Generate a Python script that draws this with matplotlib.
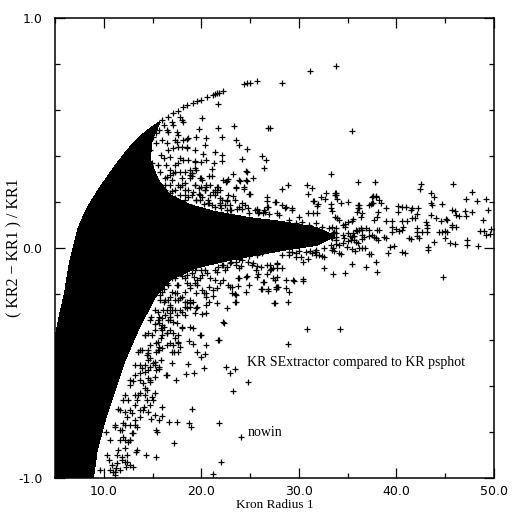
import matplotlib
matplotlib.use('Agg')
import matplotlib.pyplot as plt
from matplotlib.patches import Polygon
from matplotlib.ticker import FixedLocator, MultipleLocator
import numpy as np

# ---------------- data ----------------
x_ticks = [10, 20, 30, 40, 50]
x_tick_labels = ['10.0', '20.0', '30.0', '40.0', '50.0']
y_ticks = [-1.0, 0.0, 1.0]
y_tick_labels = ['-1.0', '0.0', '1.0']

x_label = 'Kron Radius 1'
y_label = '( KR2 \u2212 KR1 ) / KR1'
note_1 = 'KR SExtractor compared to KR psphot'
note_2 = 'nowin'

# outline of the saturated (solid black) bulk of the point cloud
core_x = [5.0, 5.0, 5.51, 6.02, 6.53, 7.35, 7.86, 8.58, 9.60, 10.62, 11.34, 12.46, 13.69, 14.71, 15.74,
          14.92, 14.71, 15.53, 16.76, 18.80, 21.36, 24.94, 28.31, 31.79, 33.63,
          31.79, 28.31, 24.94, 21.87, 19.31, 16.76, 15.22, 13.49, 12.16, 11.13, 10.11, 9.29, 8.89]
core_y = [-1.0, -0.400, -0.291, -0.196, -0.061, 0.078, 0.130, 0.191, 0.261, 0.322, 0.365, 0.426, 0.483, 0.517, 0.548,
          0.470, 0.383, 0.296, 0.230, 0.187, 0.157, 0.130, 0.113, 0.087, 0.052,
          0.013, -0.009, -0.035, -0.061, -0.087, -0.139, -0.213, -0.357, -0.487, -0.617, -0.748, -0.878, -1.0]

# individual points
tail = [(16.0, 0.557), (16.6, 0.570), (17.1, 0.587), (17.6, 0.596), (18.1, 0.613), (18.5, 0.622), (19.1, 0.630),
        (19.6, 0.639), (20.0, 0.643), (20.6, 0.657), (21.2, 0.665), (21.4, 0.670), (21.6, 0.674), (21.8, 0.674),
        (22.2, 0.683), (24.4, 0.713), (24.7, 0.716), (25.0, 0.716), (25.7, 0.725), (28.3, 0.716), (31.1, 0.771),
        (33.8, 0.791)]

upper = [(35.4, 0.509), (21.7, 0.626), (20.1, 0.565), (23.3, 0.530), (26.8, 0.522), (27.0, 0.522), (21.7, 0.522),
         (19.8, 0.517), (22.1, 0.483), (23.6, 0.470), (23.9, 0.448), (24.7, 0.430), (26.2, 0.400), (26.6, 0.383),
         (24.2, 0.387), (26.4, 0.348), (24.7, 0.330), (25.3, 0.304), (22.1, 0.404), (21.4, 0.417), (20.2, 0.409),
         (19.4, 0.378), (20.0, 0.374), (22.1, 0.378), (21.3, 0.370), (21.1, 0.343), (23.2, 0.322), (22.6, 0.291),
         (24.0, 0.291), (24.7, 0.291), (23.6, 0.265), (24.4, 0.257), (23.2, 0.226), (25.0, 0.235), (20.5, 0.478),
         (19.5, 0.483), (18.6, 0.478), (18.5, 0.435), (18.0, 0.439), (19.3, 0.348), (21.1, 0.313), (20.5, 0.274),
         (21.6, 0.243), (20.0, 0.304), (19.0, 0.326), (19.0, 0.313), (20.0, 0.265),
         (33.3, 0.322), (36.1, 0.287), (30.8, 0.274), (31.3, 0.261), (30.9, 0.235), (28.9, 0.274), (28.3, 0.257),
         (32.3, 0.222), (33.7, 0.239), (33.7, 0.230), (31.4, 0.204), (31.6, 0.204), (32.0, 0.191), (33.3, 0.191),
         (33.9, 0.213), (35.0, 0.200), (37.6, 0.226), (37.9, 0.226), (37.4, 0.191), (37.6, 0.196), (36.2, 0.187),
         (36.2, 0.174), (27.7, 0.200), (26.7, 0.222), (26.7, 0.204), (28.3, 0.187), (29.3, 0.174), (29.3, 0.165),
         (28.7, 0.178), (24.2, 0.196), (25.7, 0.165), (26.8, 0.178), (22.6, 0.209),
         (17.8, 0.570), (18.0, 0.557), (18.1, 0.548), (17.0, 0.548), (17.1, 0.535), (16.2, 0.535), (16.5, 0.513),
         (16.6, 0.504), (17.5, 0.504), (17.6, 0.491), (18.1, 0.470), (18.5, 0.474), (17.3, 0.470), (17.5, 0.461),
         (15.7, 0.513), (15.4, 0.500), (15.0, 0.483), (16.0, 0.470), (16.5, 0.457), (15.4, 0.457), (16.6, 0.426),
         (17.1, 0.435), (17.6, 0.439), (18.5, 0.439), (15.9, 0.404), (16.2, 0.391), (16.8, 0.396), (17.8, 0.391),
         (18.1, 0.383), (17.6, 0.370), (19.3, 0.374), (20.5, 0.383), (18.8, 0.339), (19.0, 0.326),
         (19.5, 0.339), (16.8, 0.339), (17.1, 0.326), (16.5, 0.309), (17.0, 0.296), (18.0, 0.304), (18.3, 0.283),
         (17.8, 0.265), (19.1, 0.243), (19.8, 0.261), (18.6, 0.222), (19.5, 0.209), (20.1, 0.222),
         (21.6, 0.265), (22.2, 0.296), (20.8, 0.196), (21.4, 0.178), (21.9, 0.187), (22.6, 0.165),
         (14.7, 0.426), (14.4, 0.396), (14.9, 0.370), (14.0, 0.352), (14.7, 0.339), (13.9, 0.317), (14.5, 0.304),
         (15.4, 0.283), (15.9, 0.265), (15.0, 0.252), (16.0, 0.222), (16.8, 0.239), (17.3, 0.217),
         (24.6, 0.335), (20.8, 0.313), (22.7, 0.300), (22.5, 0.287), (23.9, 0.296), (24.6, 0.296), (20.1, 0.296),
         (20.5, 0.265), (23.6, 0.261), (24.4, 0.265), (24.9, 0.235), (21.7, 0.265), (21.4, 0.252), (21.2, 0.243),
         (22.6, 0.204), (21.9, 0.196), (20.7, 0.196), (23.7, 0.170), (24.2, 0.170), (24.8, 0.174), (24.9, 0.152),
         (25.7, 0.170), (25.8, 0.152), (26.3, 0.152), (26.5, 0.157), (26.7, 0.178), (27.6, 0.200), (27.8, 0.152),
         (28.0, 0.143), (28.6, 0.174), (31.9, 0.183), (32.8, 0.239), (32.7, 0.213), (33.3, 0.174), (33.4, 0.161),
         (30.9, 0.152), (31.4, 0.152), (31.9, 0.152), (30.0, 0.135)]

upper_dense = [(17.27, 0.361), (17.78, 0.330), (18.80, 0.317), (19.31, 0.274), (20.34, 0.252), (20.85, 0.230),
               (21.87, 0.217), (18.29, 0.252), (19.83, 0.209), (22.89, 0.187), (23.91, 0.178), (25.96, 0.157),
               (26.98, 0.148), (16.76, 0.317), (16.25, 0.274), (17.58, 0.274), (18.60, 0.383), (19.31, 0.426),
               (20.34, 0.448), (16.0, 0.200), (16.5, 0.180), (15.5, 0.240), (18.0, 0.190), (19.0, 0.180),
               (17.0, 0.250), (18.3, 0.230), (20.3, 0.190), (22.0, 0.175), (23.0, 0.165), (19.8, 0.235),
               (14.71, 0.361), (15.53, 0.361), (16.35, 0.361), (14.92, 0.330), (15.74, 0.330), (17.27, 0.330),
               (18.29, 0.330), (15.22, 0.304), (16.25, 0.304), (18.80, 0.304), (19.83, 0.304), (15.74, 0.274),
               (16.76, 0.274), (17.99, 0.274), (19.31, 0.274), (20.85, 0.274), (16.25, 0.252), (17.27, 0.252),
               (18.60, 0.252), (20.34, 0.252), (21.87, 0.252), (17.78, 0.230), (19.01, 0.230), (19.83, 0.230),
               (21.36, 0.230), (22.69, 0.230), (18.29, 0.209), (19.42, 0.209), (20.64, 0.209), (22.08, 0.209),
               (23.40, 0.209), (21.05, 0.187), (22.38, 0.187), (24.43, 0.187), (22.89, 0.165), (25.45, 0.165),
               (26.47, 0.165)]

arm_tip = [(29.03, 0.122), (29.74, 0.107), (30.36, 0.114), (31.07, 0.100), (31.79, 0.107), (32.40, 0.093),
           (33.12, 0.086), (32.30, 0.064), (32.91, 0.057), (33.63, 0.071), (33.83, 0.035), (33.32, 0.013),
           (32.61, -0.001), (31.79, -0.009), (30.77, -0.016), (29.74, -0.023), (29.03, -0.016), (28.31, -0.030)]

right = [(37.8, 0.287), (42.5, 0.278), (42.4, 0.257), (45.8, 0.278), (47.7, 0.243), (33.8, 0.239), (33.8, 0.230),
         (34.3, 0.196), (37.5, 0.222), (37.9, 0.222), (38.2, 0.209), (38.4, 0.196), (37.5, 0.196), (37.2, 0.187),
         (36.1, 0.187), (36.1, 0.174), (36.0, 0.157), (36.5, 0.152), (36.4, 0.135), (43.5, 0.239), (43.9, 0.222),
         (43.5, 0.196), (43.6, 0.187), (44.7, 0.191), (47.1, 0.213), (49.2, 0.213), (48.3, 0.204), (40.2, 0.183),
         (40.2, 0.157), (40.6, 0.178), (41.0, 0.178), (41.5, 0.165), (41.6, 0.174), (42.2, 0.174), (42.1, 0.148),
         (38.9, 0.174), (38.9, 0.117), (39.5, 0.117), (40.6, 0.117), (41.1, 0.117), (41.6, 0.130), (41.9, 0.130),
         (43.0, 0.113), (43.1, 0.100), (43.1, 0.087), (43.1, 0.070), (43.5, 0.143), (44.1, 0.130), (44.6, 0.117),
         (45.1, 0.126), (45.2, 0.122), (45.7, 0.165), (46.0, 0.161), (46.1, 0.143), (46.4, 0.139), (47.0, 0.161),
         (47.1, 0.139), (47.7, 0.157), (48.9, 0.122), (49.4, 0.165), (45.7, 0.100), (45.7, 0.091), (46.1, 0.091),
         (48.6, 0.074), (49.0, 0.074), (49.2, 0.057), (49.6, 0.061), (49.7, 0.083), (44.4, 0.070), (44.7, 0.070),
         (45.0, 0.074), (45.2, 0.070), (47.2, 0.035), (47.2, 0.013), (48.4, 0.009), (46.0, 0.017), (45.5, 0.022),
         (45.0, 0.043), (43.9, 0.026), (43.2, 0.004), (43.2, -0.009), (44.8, -0.126), (42.1, 0.087), (42.1, 0.070),
         (42.6, 0.070), (42.1, 0.052), (42.3, 0.043), (41.3, 0.043), (41.5, 0.039), (40.6, 0.078), (40.7, 0.091),
         (40.3, 0.074), (40.0, 0.083), (39.5, 0.091), (39.5, 0.070), (39.8, 0.009), (39.3, 0.004), (40.6, -0.017),
         (40.9, -0.022), (39.1, -0.022), (38.7, 0.048), (38.9, 0.043), (38.1, 0.035), (37.9, 0.043), (37.5, 0.057),
         (37.7, 0.048), (37.2, 0.052), (38.0, 0.078), (38.2, 0.078), (38.1, 0.157), (38.0, 0.135), (37.7, 0.122),
         (36.9, 0.087), (37.2, 0.078), (36.4, 0.087), (36.5, 0.078), (36.2, 0.078), (36.0, 0.074), (35.9, 0.078),
         (36.5, 0.057), (36.5, 0.039), (36.7, 0.048), (36.2, 0.000), (36.5, 0.000), (36.8, 0.000), (36.1, 0.022),
         (35.9, 0.026), (35.7, 0.052), (35.7, 0.035), (35.4, 0.048), (35.3, 0.035), (35.0, 0.030), (35.0, 0.065),
         (35.2, 0.052), (35.5, 0.065), (35.5, 0.126), (35.4, 0.117), (35.0, 0.113), (34.7, 0.104), (34.7, 0.091),
         (34.5, 0.100), (33.7, 0.135), (33.9, 0.130), (34.1, 0.122), (33.4, 0.091), (33.8, 0.087), (33.8, 0.065),
         (33.5, 0.065), (33.3, 0.048), (33.4, 0.043), (33.8, 0.048), (33.8, 0.017), (34.1, 0.013), (34.5, 0.022),
         (34.6, 0.043), (34.5, 0.057), (34.9, 0.004), (35.4, -0.004), (35.8, -0.013), (33.5, 0.000), (33.6, -0.013),
         (34.1, -0.022), (34.3, -0.026), (37.2, -0.026), (37.4, -0.026), (35.4, -0.070), (36.9, -0.083),
         (37.9, -0.061), (38.0, -0.104), (33.5, -0.113), (34.7, -0.109)]

lower = [(23.0, -0.061), (23.9, -0.048), (24.8, -0.061), (25.3, -0.065), (26.1, -0.083), (27.0, -0.074),
         (27.1, -0.091), (27.8, -0.070), (28.3, -0.087), (29.7, -0.039), (30.4, -0.061), (30.9, -0.048),
         (32.6, -0.087), (33.4, -0.009), (32.4, -0.035), (31.7, -0.017), (25.6, -0.096), (24.6, -0.126),
         (23.8, -0.130), (25.7, -0.126), (26.3, -0.148), (27.6, -0.139), (28.7, -0.139), (26.7, -0.113),
         (29.4, -0.139), (30.4, -0.135), (27.8, -0.170), (27.7, -0.178), (26.8, -0.178), (26.1, -0.178),
         (29.0, -0.191), (22.7, -0.161), (23.1, -0.170), (23.6, -0.204), (24.9, -0.161), (21.4, -0.139),
         (21.9, -0.152), (22.2, -0.139), (20.8, -0.170), (21.2, -0.183), (21.6, -0.174), (20.1, -0.183),
         (20.5, -0.196), (19.3, -0.152), (19.6, -0.161), (23.9, -0.087), (22.4, -0.096), (22.1, -0.074),
         (22.6, -0.083), (21.6, -0.104), (21.7, -0.083),
         (30.8, -0.352), (34.2, -0.352), (28.9, -0.417), (22.9, -0.543), (27.4, -0.239), (28.9, -0.235),
         (28.7, -0.174), (29.5, -0.143), (30.4, -0.143), (31.8, -0.017), (31.8, -0.030), (32.1, -0.030),
         (32.6, -0.039), (30.0, -0.013), (30.2, -0.039), (29.3, -0.017), (29.0, -0.030), (27.8, -0.065),
         (27.8, -0.087), (27.3, -0.087), (26.7, -0.074), (27.0, -0.096), (25.7, -0.078), (25.2, -0.074),
         (24.7, -0.122), (25.8, -0.113), (23.9, -0.130), (22.9, -0.170), (23.8, -0.165), (24.6, -0.191),
         (23.1, -0.196), (23.5, -0.200), (23.4, -0.235), (26.2, -0.178), (27.7, -0.170), (27.9, -0.170),
         (26.4, -0.148), (27.3, -0.130), (27.8, -0.126), (26.2, -0.022), (25.7, -0.030), (24.9, -0.035),
         (24.2, -0.052), (23.6, -0.074), (31.1, -0.013), (31.3, -0.022),
         (22.2, -0.074), (22.9, -0.065), (23.6, -0.061), (24.1, -0.078), (19.5, -0.083), (20.0, -0.096),
         (18.5, -0.117), (19.0, -0.109), (20.1, -0.117), (20.6, -0.109), (19.2, -0.126), (19.6, -0.139),
         (18.5, -0.152), (18.8, -0.174), (20.5, -0.248), (20.8, -0.235), (22.2, -0.322), (17.5, -0.196),
         (18.0, -0.213), (18.5, -0.235), (19.1, -0.235), (19.6, -0.257), (18.3, -0.257), (18.0, -0.278),
         (16.8, -0.257), (17.3, -0.270), (17.5, -0.326), (18.0, -0.348), (18.8, -0.343), (19.1, -0.348),
         (20.0, -0.378), (21.7, -0.400), (20.5, -0.422), (17.3, -0.391), (17.6, -0.409), (17.1, -0.422),
         (16.0, -0.357), (16.5, -0.370), (15.7, -0.300), (16.0, -0.304), (16.8, -0.300),
         (19.5, -0.196), (20.3, -0.196), (20.5, -0.213), (21.2, -0.209), (21.6, -0.239), (23.4, -0.200),
         (23.6, -0.235), (26.8, -0.187), (27.5, -0.239), (22.6, -0.261), (22.3, -0.326), (20.1, -0.287),
         (20.5, -0.283), (19.3, -0.283), (19.5, -0.261), (18.8, -0.257), (18.5, -0.261), (19.9, -0.378),
         (21.8, -0.400), (18.7, -0.404), (19.1, -0.417), (19.6, -0.452), (20.0, -0.474), (20.4, -0.461),
         (17.6, -0.378), (17.6, -0.413), (17.8, -0.430), (17.0, -0.452), (17.2, -0.452), (17.6, -0.452),
         (17.0, -0.500), (18.6, -0.504), (20.3, -0.522), (22.5, -0.517), (23.5, -0.526), (19.2, -0.543),
         (18.4, -0.548), (17.4, -0.574), (16.5, -0.552), (15.7, -0.526), (24.8, -0.583), (23.2, -0.622),
         (19.0, -0.700), (21.8, -0.761), (18.7, -0.761), (18.9, -0.778), (17.5, -0.757), (16.7, -0.757),
         (16.0, -0.730), (15.7, -0.748), (15.2, -0.726), (14.8, -0.743), (15.5, -0.800), (24.1, -0.822),
         (17.2, -0.848), (14.3, -0.900), (15.4, -0.909), (13.3, -0.887), (22.0, -0.930), (21.2, -0.983),
         (13.0, -0.952), (12.7, -0.943), (12.3, -0.952), (14.0, -0.704), (14.1, -0.691), (13.7, -0.735),
         (14.9, -0.648), (14.4, -0.661), (14.7, -0.683), (14.2, -0.609), (14.4, -0.617), (15.2, -0.630),
         (16.0, -0.691), (14.5, -0.565), (14.7, -0.583), (15.4, -0.530), (15.7, -0.517), (14.5, -0.530),
         (14.7, -0.517), (14.4, -0.465), (14.7, -0.478), (15.2, -0.496), (15.4, -0.452), (15.7, -0.443),
         (16.0, -0.435), (15.6, -0.409), (15.9, -0.391), (16.5, -0.422), (16.8, -0.413), (16.5, -0.370),
         (16.8, -0.357), (17.1, -0.370), (15.9, -0.348), (16.2, -0.343), (15.7, -0.326), (18.0, -0.343),
         (17.1, -0.322), (17.5, -0.291), (16.8, -0.283), (16.5, -0.270), (18.3, -0.235), (18.8, -0.239),
         (17.8, -0.217), (16.8, -0.213), (17.3, -0.196), (16.2, -0.235), (13.4, -0.778), (12.9, -0.804),
         (12.5, -0.843), (12.2, -0.870), (11.9, -0.909), (11.4, -0.935), (12.4, -0.930), (11.1, -0.974),
         (12.0, -0.761), (12.4, -0.735), (12.9, -0.717), (13.2, -0.748), (12.0, -0.822),
         (15.2, -0.561), (16.4, -0.552), (13.4, -0.878), (12.2, -0.930), (11.3, -0.957), (10.9, -0.974),
         (15.4, -0.791), (14.5, -0.713), (15.0, -0.661), (14.0, -0.587), (13.7, -0.630), (13.4, -0.661),
         (13.0, -0.804), (12.7, -0.835), (11.9, -0.791), (15.0, -0.500), (15.9, -0.487), (15.7, -0.430),
         (15.4, -0.413), (14.5, -0.457), (13.9, -0.522), (13.7, -0.543)]

lower_dense = [(15.74, -0.204), (16.25, -0.226), (16.76, -0.248), (17.27, -0.226), (17.78, -0.270),
               (18.29, -0.291), (16.25, -0.291), (16.76, -0.313), (15.53, -0.278), (15.94, -0.335),
               (14.20, -0.378), (14.71, -0.422), (15.22, -0.357), (13.90, -0.443), (14.51, -0.487),
               (13.69, -0.509), (13.18, -0.552), (14.20, -0.539), (12.67, -0.596), (13.49, -0.639),
               (12.46, -0.661), (13.18, -0.683), (12.16, -0.713), (12.67, -0.770), (11.65, -0.791),
               (12.16, -0.835), (11.44, -0.878), (11.85, -0.922), (10.83, -0.943), (11.13, -0.987),
               (16.5, -0.150), (17.0, -0.130), (16.2, -0.180), (18.0, -0.120), (17.5, -0.160),
               (14.8, -0.300), (15.2, -0.330), (14.5, -0.370), (13.5, -0.450), (13.0, -0.580),
               (12.0, -0.660), (11.5, -0.700), (11.2, -0.780), (10.5, -0.920), (10.2, -0.800),
               (18.29, -0.096), (19.31, -0.096), (20.34, -0.096), (21.36, -0.096), (17.27, -0.130),
               (18.29, -0.130), (19.83, -0.130), (20.85, -0.130), (16.55, -0.161), (17.58, -0.161),
               (18.80, -0.161), (15.94, -0.191), (16.96, -0.191), (18.29, -0.191), (15.74, -0.226),
               (16.55, -0.226), (17.58, -0.226), (18.80, -0.226), (15.22, -0.270), (16.04, -0.270),
               (16.96, -0.270), (14.71, -0.313), (15.53, -0.313), (16.55, -0.313), (14.20, -0.378),
               (14.92, -0.378), (15.94, -0.378), (13.69, -0.443), (14.51, -0.443), (15.53, -0.443),
               (13.18, -0.509), (14.20, -0.509), (15.22, -0.509), (12.67, -0.574), (13.69, -0.574),
               (14.71, -0.574), (12.16, -0.639), (13.18, -0.639), (14.20, -0.639), (11.65, -0.704),
               (12.67, -0.704), (13.69, -0.704), (11.13, -0.770), (12.16, -0.770), (13.18, -0.770),
               (10.62, -0.835), (11.65, -0.835), (12.67, -0.835), (10.32, -0.900), (11.34, -0.900),
               (12.36, -0.900), (9.60, -0.965), (10.62, -0.965), (11.65, -0.965)]

groups = [tail, upper, upper_dense, arm_tip, right, lower, lower_dense]

# ---------------- figure ----------------
plt.rcParams['font.family'] = ['Liberation Sans Narrow', 'DejaVu Sans']
fig = plt.figure(figsize=(5.12, 5.12), dpi=100)
fig.patch.set_facecolor('white')
ax = fig.add_axes([55 / 512, 34 / 512, 439 / 512, 460 / 512])

ax.add_patch(Polygon(np.column_stack([core_x, core_y]), closed=True, facecolor='black',
                     edgecolor='black', linewidth=0.6, antialiased=False, zorder=2))
for g in groups:
    gx = [p[0] for p in g]
    gy = [p[1] for p in g]
    ax.plot(gx, gy, linestyle='none', marker='+', markersize=3.8, markeredgewidth=0.9,
            color='black', antialiased=False, zorder=3)

ax.set_xlim(5, 50)
ax.set_ylim(-1, 1)
ax.xaxis.set_major_locator(FixedLocator(x_ticks))
ax.set_xticklabels(x_tick_labels)
ax.yaxis.set_major_locator(FixedLocator(y_ticks))
ax.set_yticklabels(y_tick_labels)
ax.xaxis.set_minor_locator(MultipleLocator(5))
ax.yaxis.set_minor_locator(MultipleLocator(0.2))
ax.tick_params(which='both', direction='in', top=True, right=True, color='black')
ax.tick_params(which='major', length=7, width=0.9, labelsize=9)
ax.tick_params(axis='x', which='major', pad=5)
ax.tick_params(axis='y', which='major', pad=9)
ax.tick_params(which='minor', length=3.6, width=0.9)
for s in ax.spines.values():
    s.set_linewidth(1.1)

serif = ['Liberation Serif', 'DejaVu Serif']
fig.text(274.5 / 512, 1 - 505 / 512, x_label, ha='center', va='center', fontsize=9.5, family=serif)
fig.text(14 / 512, 1 - 248 / 512, y_label, ha='center', va='center', rotation=90, fontsize=11.5, family=serif)
ax.text(24.73, -0.499, note_1, ha='left', va='center', fontsize=10, family=serif, zorder=4)
ax.text(24.73, -0.803, note_2, ha='left', va='center', fontsize=10, family=serif, zorder=4)

fig.savefig('out.png', dpi=100, facecolor='white')
